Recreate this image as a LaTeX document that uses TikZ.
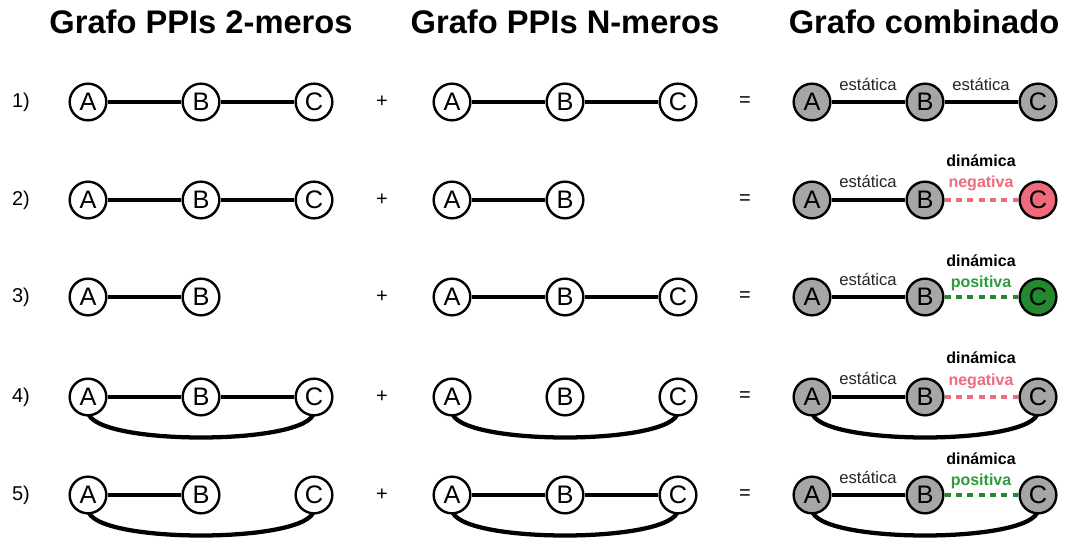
\documentclass[tikz,border=0pt]{standalone}
\usepackage{fontspec}
\setmainfont{Liberation Sans}
\definecolor{nodegray}{HTML}{A6A6A6}
\definecolor{negred}{HTML}{EF6A7C}
\definecolor{posgreen}{HTML}{22892F}
\definecolor{postext}{HTML}{2E9A3E}
\begin{document}
\begin{tikzpicture}[x=0.75pt,y=-0.75pt,
  nd/.style={circle,draw,line width=1.8pt,minimum size=27.5pt,inner sep=0pt,fill=white,font=\fontsize{19}{19}\selectfont},
  gr/.style={fill=nodegray},
  rd/.style={fill=negred},
  gn/.style={fill=posgreen},
  edge/.style={line width=3.2pt},
  dyn/.style={line width=3.6pt,dash pattern=on 4.5pt off 4pt},
  arc/.style={line width=3.2pt},
  hdr/.style={font=\fontsize{24.5}{24.5}\selectfont\bfseries},
  sym/.style={font=\fontsize{15}{15}\selectfont},
  est/.style={font=\fontsize{12.5}{12.5}\selectfont,text=black!85},
  dinb/.style={font=\fontsize{12}{12}\selectfont\bfseries},
]
\useasboundingbox (0,0) rectangle (1067,545);
\node[hdr] (h1) at (201,22) {Grafo PPIs 2-meros};
\node[hdr] (h2) at (565,22) {Grafo PPIs N-meros};
\node[hdr] (h3) at (924,22) {Grafo combinado};

% row labels and symbols
\foreach \r/\y in {1/102,2/200,3/297,4/397,5/495}{
  \node[sym] (r\r) at (21,\y) {\r)};
  \node[sym] (p\r) at (382,\y) {+};
  \node[sym] (e\r) at (745,\y) {=};
}

% ---------- Row 1 ----------
\node[nd] (a1a) at (88,102) {A};
\node[nd] (a1b) at (201,102) {B};
\node[nd] (a1c) at (314,102) {C};
\node[nd] (b1a) at (452,102) {A};
\node[nd] (b1b) at (565,102) {B};
\node[nd] (b1c) at (678,102) {C};
\node[nd,gr] (c1a) at (812,102) {A};
\node[nd,gr] (c1b) at (925,102) {B};
\node[nd,gr] (c1c) at (1038,102) {C};
\draw[edge] (a1a) -- (a1b); \draw[edge] (a1b) -- (a1c);
\draw[edge] (b1a) -- (b1b); \draw[edge] (b1b) -- (b1c);
\draw[edge] (c1a) -- (c1b); \draw[edge] (c1b) -- (c1c);
\node[est] (l1a) at (868,84) {estática};
\node[est] (l1b) at (981,84) {estática};

% ---------- Row 2 ----------
\node[nd] (a2a) at (88,200) {A};
\node[nd] (a2b) at (201,200) {B};
\node[nd] (a2c) at (314,200) {C};
\node[nd] (b2a) at (452,200) {A};
\node[nd] (b2b) at (565,200) {B};
\node[nd,gr] (c2a) at (812,200) {A};
\node[nd,gr] (c2b) at (925,200) {B};
\node[nd,rd] (c2c) at (1038,200) {C};
\draw[edge] (a2a) -- (a2b); \draw[edge] (a2b) -- (a2c);
\draw[edge] (b2a) -- (b2b);
\draw[edge] (c2a) -- (c2b);
\draw[dyn,negred] (c2b) -- (c2c);
\node[est] (l2a) at (868,181) {estática};
\node[dinb] (l2b) at (981,161) {dinámica};
\node[dinb,text=negred] (l2c) at (981,183) {negativa};

% ---------- Row 3 ----------
\node[nd] (a3a) at (88,297) {A};
\node[nd] (a3b) at (201,297) {B};
\node[nd] (b3a) at (452,297) {A};
\node[nd] (b3b) at (565,297) {B};
\node[nd] (b3c) at (678,297) {C};
\node[nd,gr] (c3a) at (812,297) {A};
\node[nd,gr] (c3b) at (925,297) {B};
\node[nd,gn] (c3c) at (1038,297) {C};
\draw[edge] (a3a) -- (a3b);
\draw[edge] (b3a) -- (b3b); \draw[edge] (b3b) -- (b3c);
\draw[edge] (c3a) -- (c3b);
\draw[dyn,posgreen] (c3b) -- (c3c);
\node[est] (l3a) at (868,279) {estática};
\node[dinb] (l3b) at (981,261) {dinámica};
\node[dinb,text=postext] (l3c) at (981,283) {positiva};

% ---------- Row 4 ----------
\draw[arc] (88,412) .. controls (92,446) and (310,446) .. (314,412);
\draw[arc] (452,412) .. controls (456,446) and (674,446) .. (678,412);
\draw[arc] (812,412) .. controls (816,446) and (1034,446) .. (1038,412);
\node[nd] (a4a) at (88,397) {A};
\node[nd] (a4b) at (201,397) {B};
\node[nd] (a4c) at (314,397) {C};
\node[nd] (b4a) at (452,397) {A};
\node[nd] (b4b) at (565,397) {B};
\node[nd] (b4c) at (678,397) {C};
\node[nd,gr] (c4a) at (812,397) {A};
\node[nd,gr] (c4b) at (925,397) {B};
\node[nd,gr] (c4c) at (1038,397) {C};
\draw[edge] (a4a) -- (a4b); \draw[edge] (a4b) -- (a4c);
\draw[edge] (c4a) -- (c4b);
\draw[dyn,negred] (c4b) -- (c4c);
\node[est] (l4a) at (868,378) {estática};
\node[dinb] (l4b) at (981,358) {dinámica};
\node[dinb,text=negred] (l4c) at (981,381) {negativa};

% ---------- Row 5 ----------
\draw[arc] (88,510) .. controls (92,544) and (310,544) .. (314,510);
\draw[arc] (452,510) .. controls (456,544) and (674,544) .. (678,510);
\draw[arc] (812,510) .. controls (816,544) and (1034,544) .. (1038,510);
\node[nd] (a5a) at (88,495) {A};
\node[nd] (a5b) at (201,495) {B};
\node[nd] (a5c) at (314,495) {C};
\node[nd] (b5a) at (452,495) {A};
\node[nd] (b5b) at (565,495) {B};
\node[nd] (b5c) at (678,495) {C};
\node[nd,gr] (c5a) at (812,495) {A};
\node[nd,gr] (c5b) at (925,495) {B};
\node[nd,gr] (c5c) at (1038,495) {C};
\draw[edge] (a5a) -- (a5b);
\draw[edge] (b5a) -- (b5b); \draw[edge] (b5b) -- (b5c);
\draw[edge] (c5a) -- (c5b);
\draw[dyn,posgreen] (c5b) -- (c5c);
\node[est] (l5a) at (868,477) {estática};
\node[dinb] (l5b) at (981,459) {dinámica};
\node[dinb,text=postext] (l5c) at (981,481) {positiva};
\end{tikzpicture}
\end{document}
